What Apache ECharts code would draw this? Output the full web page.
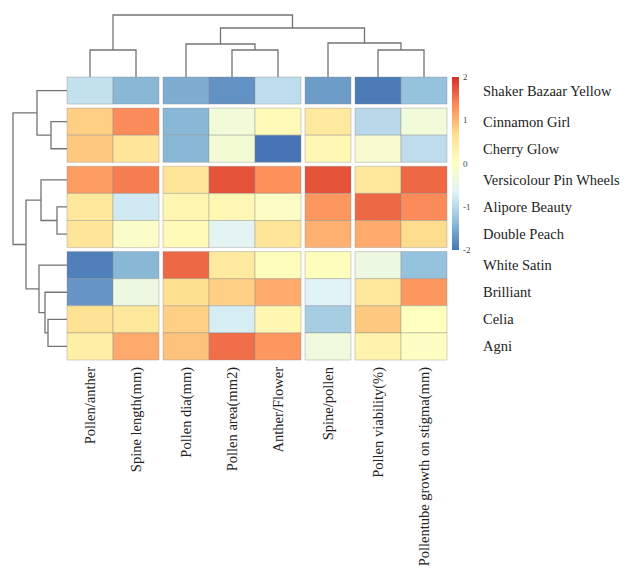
<!DOCTYPE html>
<html>
<head>
<meta charset="utf-8">
<script src="https://cdn.jsdelivr.net/npm/echarts@6/dist/echarts.min.js"></script>
<style>html,body{margin:0;padding:0;background:#fff}#c{width:632px;height:582px}</style>
</head>
<body>
<div id="c"></div>
<script>
// ---------------- data ----------------
const rowNames = ['Shaker Bazaar Yellow','Cinnamon Girl','Cherry Glow','Versicolour Pin Wheels','Alipore Beauty','Double Peach','White Satin','Brilliant','Celia','Agni'];
const colNames = ['Pollen/anther','Spine length(mm)','Pollen dia(mm)','Pollen area(mm2)','Anther/Flower','Spine/pollen','Pollen viability(%)','Pollentube growth on stigma(mm)'];
const rowShaker      = [-0.9, -1.4, -1.5, -1.75, -0.95, -1.65, -1.95, -1.3];
const rowCinnamon    = [0.8, 1.35, -1.4, -0.3, 0.1, 0.45, -1.0, -0.3];
const rowCherry      = [0.85, 0.55, -1.4, -0.25, -2.0, 0.15, -0.2, -0.95];
const rowVersicolour = [1.2, 1.45, 0.55, 1.75, 1.3, 1.75, 0.5, 1.6];
const rowAlipore     = [0.5, -0.8, 0.2, 0.15, -0.05, 1.25, 1.6, 1.35];
const rowDoublePeach = [0.55, -0.1, 0.1, -0.6, 0.55, 1.05, 1.1, 0.7];
const rowWhiteSatin  = [-1.9, -1.4, 1.6, 0.45, 0.05, 0.05, -0.4, -1.3];
const rowBrilliant   = [-1.7, -0.4, 0.65, 0.8, 1.1, -0.65, 0.5, 1.25];
const rowCelia       = [0.6, 0.5, 0.8, -0.75, 0.2, -1.15, 0.85, 0.0];
const rowAgni        = [0.35, 1.1, 0.9, 1.55, 1.25, -0.35, 0.25, -0.05];
const values = [rowShaker, rowCinnamon, rowCherry, rowVersicolour, rowAlipore, rowDoublePeach, rowWhiteSatin, rowBrilliant, rowCelia, rowAgni];

// dendrogram merges (leaves 0..n-1, merged clusters n, n+1, ...)
const rowMergeA = [1, 0, 4, 3, 8, 7, 6, 13, 11];
const rowMergeB = [2, 10, 5, 12, 9, 14, 15, 16, 17];
const rowMergeH = [16, 30, 10, 26, 19, 22, 28, 41, 54];
const colMergeA = [0, 3, 6, 2, 5, 11, 8];
const colMergeB = [1, 4, 7, 9, 10, 12, 13];
const colMergeH = [27, 27, 27, 33, 34, 49, 62];
// cluster cut positions (gap after the first k leaves)
const rowGapsAfter = [1, 3, 6];
const colGapsAfter = [2, 5, 6];
const legendTicks = [-2, -1, 0, 1, 2];

// ---------------- layout / style ----------------
const GX = 4 / 46, GY = 4 / 27.1;
const palette = ['#4575B4','#91BFDB','#E0F3F8','#FFFFBF','#FEE090','#FC8D59','#D73027'];
const serif = "'Liberation Serif','Times New Roman',serif";
const nR = rowNames.length, nC = colNames.length;
const xMax = nC + colGapsAfter.length * GX;
const yMax = nR + rowGapsAfter.length * GY;
function off(i, gaps, g) { return i + g * gaps.filter(k => k <= i).length; }

function buildTree(n, A, B, H, gaps, g) {
  const pos = [], hgt = [];
  for (let i = 0; i < n; i++) { pos.push(off(i, gaps, g) + 0.5); hgt.push(0); }
  for (let m = 0; m < A.length; m++) {
    pos.push((pos[A[m]] + pos[B[m]]) / 2);
    hgt.push(H[m]);
  }
  return { pos, hgt };
}
const rowTree = buildTree(nR, rowMergeA, rowMergeB, rowMergeH, rowGapsAfter, GY);
const colTree = buildTree(nC, colMergeA, colMergeB, colMergeH, colGapsAfter, GX);

const cells = [];
values.forEach((r, ri) => r.forEach((v, ci) => cells.push([ci, ri, v])));

const lineStyle = { stroke: '#747474', lineWidth: 1.3, fill: null };

const option = {
  animation: false,
  backgroundColor: '#fff',
  grid: [
    { left: 67, top: 77, width: 380, height: 283 },
    { left: 67, top: 15, width: 380, height: 62 },
    { left: 13, top: 77, width: 54, height: 283 },
    { left: 452, top: 77, width: 7, height: 173 }
  ],
  xAxis: [
    { gridIndex: 0, type: 'value', min: 0, max: xMax, show: false },
    { gridIndex: 1, type: 'value', min: 0, max: xMax, show: false },
    { gridIndex: 2, type: 'value', min: 0, max: Math.max(...rowMergeH), inverse: true, show: false },
    { gridIndex: 3, type: 'value', min: 0, max: 1, show: false }
  ],
  yAxis: [
    { gridIndex: 0, type: 'value', min: 0, max: yMax, inverse: true, show: false },
    { gridIndex: 1, type: 'value', min: 0, max: Math.max(...colMergeH), show: false },
    { gridIndex: 2, type: 'value', min: 0, max: yMax, inverse: true, show: false },
    { gridIndex: 3, type: 'value', min: -2, max: 2, interval: 1, position: 'right',
      axisLine: { show: false }, axisTick: { show: false }, splitLine: { show: false },
      axisLabel: { fontSize: 9, color: '#444', margin: 4, fontFamily: serif,
        customValues: legendTicks } }
  ],
  visualMap: {
    type: 'continuous', show: false, min: -2, max: 2, dimension: 2, seriesIndex: 0,
    inRange: { color: palette }
  },
  series: [
    {
      type: 'custom', xAxisIndex: 0, yAxisIndex: 0, data: cells,
      encode: { x: 0, y: 1 },
      renderItem(params, api) {
        const ci = api.value(0), ri = api.value(1);
        const x0 = off(ci, colGapsAfter, GX), y0 = off(ri, rowGapsAfter, GY);
        const p0 = api.coord([x0, y0]), p1 = api.coord([x0 + 1, y0 + 1]);
        return { type: 'rect',
          shape: { x: p0[0], y: p0[1], width: p1[0] - p0[0], height: p1[1] - p0[1] },
          style: { fill: api.visual('color'), stroke: 'rgba(140,140,140,0.55)', lineWidth: 0.7 } };
      }
    },
    {
      type: 'custom', xAxisIndex: 0, yAxisIndex: 0, silent: true,
      data: rowNames.map((n, i) => [i]),
      renderItem(params, api) {
        const i = api.value(0);
        const p = api.coord([xMax, off(i, rowGapsAfter, GY) + 0.5]);
        return { type: 'text', x: p[0] + 36, y: p[1],
          style: { text: rowNames[i], fontSize: 14.5, fontFamily: serif, fill: '#222',
            align: 'left', verticalAlign: 'middle' } };
      }
    },
    {
      type: 'custom', xAxisIndex: 0, yAxisIndex: 0, silent: true,
      data: colNames.map((n, i) => [i]),
      renderItem(params, api) {
        const i = api.value(0);
        const p = api.coord([off(i, colGapsAfter, GX) + 0.5, yMax]);
        return { type: 'text', x: p[0], y: p[1] + 7, rotation: Math.PI / 2,
          style: { text: colNames[i], fontSize: 14.5, fontFamily: serif, fill: '#222',
            align: 'right', verticalAlign: 'middle' } };
      }
    },
    {
      type: 'custom', xAxisIndex: 1, yAxisIndex: 1, silent: true,
      data: colMergeH.map((h, m) => [m]),
      renderItem(params, api) {
        const m = api.value(0), a = colMergeA[m], b = colMergeB[m], h = colMergeH[m];
        const pts = [
          api.coord([colTree.pos[a], colTree.hgt[a]]), api.coord([colTree.pos[a], h]),
          api.coord([colTree.pos[b], h]), api.coord([colTree.pos[b], colTree.hgt[b]])];
        return { type: 'polyline', shape: { points: pts }, style: lineStyle };
      }
    },
    {
      type: 'custom', xAxisIndex: 2, yAxisIndex: 2, silent: true,
      data: rowMergeH.map((h, m) => [m]),
      renderItem(params, api) {
        const m = api.value(0), a = rowMergeA[m], b = rowMergeB[m], h = rowMergeH[m];
        const pts = [
          api.coord([rowTree.hgt[a], rowTree.pos[a]]), api.coord([h, rowTree.pos[a]]),
          api.coord([h, rowTree.pos[b]]), api.coord([rowTree.hgt[b], rowTree.pos[b]])];
        return { type: 'polyline', shape: { points: pts }, style: lineStyle };
      }
    },
    {
      type: 'custom', xAxisIndex: 3, yAxisIndex: 3, silent: true,
      data: [[0, legendTicks[legendTicks.length - 1]]],
      renderItem(params, api) {
        const p0 = api.coord([0, legendTicks[legendTicks.length - 1]]);
        const p1 = api.coord([1, legendTicks[0]]);
        const stops = palette.slice().reverse().map((c, k) => ({ offset: k / (palette.length - 1), color: c }));
        return { type: 'rect',
          shape: { x: p0[0], y: p0[1], width: p1[0] - p0[0], height: p1[1] - p0[1] },
          style: { fill: new echarts.graphic.LinearGradient(0, 0, 0, 1, stops) } };
      }
    }
  ]
};
const chart = echarts.init(document.getElementById('c'), null, { renderer: 'svg', width: 632, height: 582 });
chart.setOption(option);
</script>
</body>
</html>
